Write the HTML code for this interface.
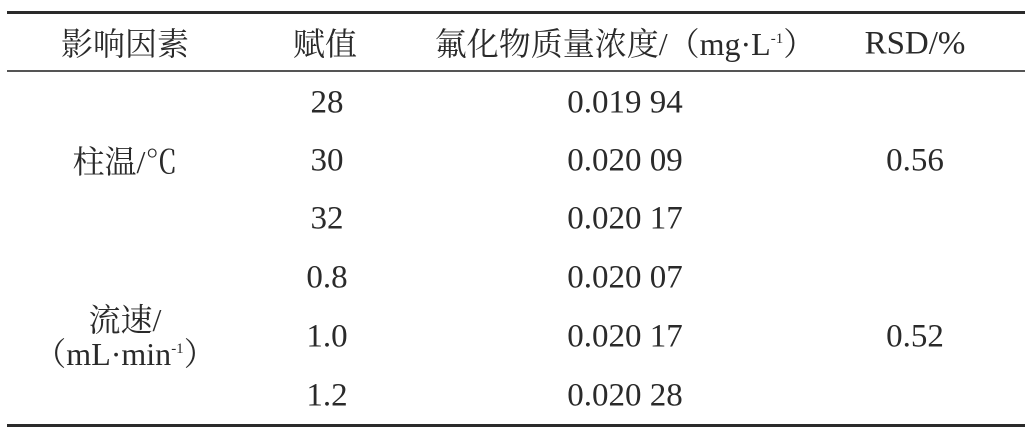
<!DOCTYPE html>
<html><head><meta charset="utf-8"><style>
body{margin:0;width:1033px;height:438px;background:#fff;position:relative;overflow:hidden;font-family:"Liberation Serif","Noto Serif CJK SC",serif;color:#2a2a2a;font-size:32px}
.l{position:absolute;left:7px;width:1018px;background:#2a2a2a}
.t{position:absolute;transform:translate(-50%,-50%);white-space:nowrap;line-height:1}
.n{font-size:33px}
sup{font-size:15px;vertical-align:12px}
</style></head><body>
<div class="l" style="top:11px;height:3px"></div>
<div class="l" style="top:70px;height:2px;background:#555"></div>
<div class="l" style="top:424px;height:3px"></div>
<div class="t" style="left:125px;top:44px">影响因素</div>
<div class="t" style="left:325px;top:44px">赋值</div>
<div class="t" style="left:625px;top:44px">氟化物质量浓度/（mg·L<sup>-1</sup>）</div>
<div class="t n" style="left:915px;top:44px">RSD/%</div>
<div class="t" style="left:125px;top:161px">柱温/<span style="font-family:'Noto Serif CJK SC',serif">℃</span></div>
<div class="t" style="left:125px;top:320px">流速/</div>
<div class="t" style="left:125px;top:354px">（mL·min<sup>-1</sup>）</div>
<div class="t n" style="left:327px;top:103px">28</div>
<div class="t n" style="left:327px;top:161px">30</div>
<div class="t n" style="left:327px;top:219px">32</div>
<div class="t n" style="left:327px;top:278px">0.8</div>
<div class="t n" style="left:327px;top:337px">1.0</div>
<div class="t n" style="left:327px;top:396px">1.2</div>
<div class="t n" style="left:625px;top:103px">0.019 94</div>
<div class="t n" style="left:625px;top:161px">0.020 09</div>
<div class="t n" style="left:625px;top:219px">0.020 17</div>
<div class="t n" style="left:625px;top:278px">0.020 07</div>
<div class="t n" style="left:625px;top:337px">0.020 17</div>
<div class="t n" style="left:625px;top:396px">0.020 28</div>
<div class="t n" style="left:915px;top:161px">0.56</div>
<div class="t n" style="left:915px;top:337px">0.52</div>
</body></html>
